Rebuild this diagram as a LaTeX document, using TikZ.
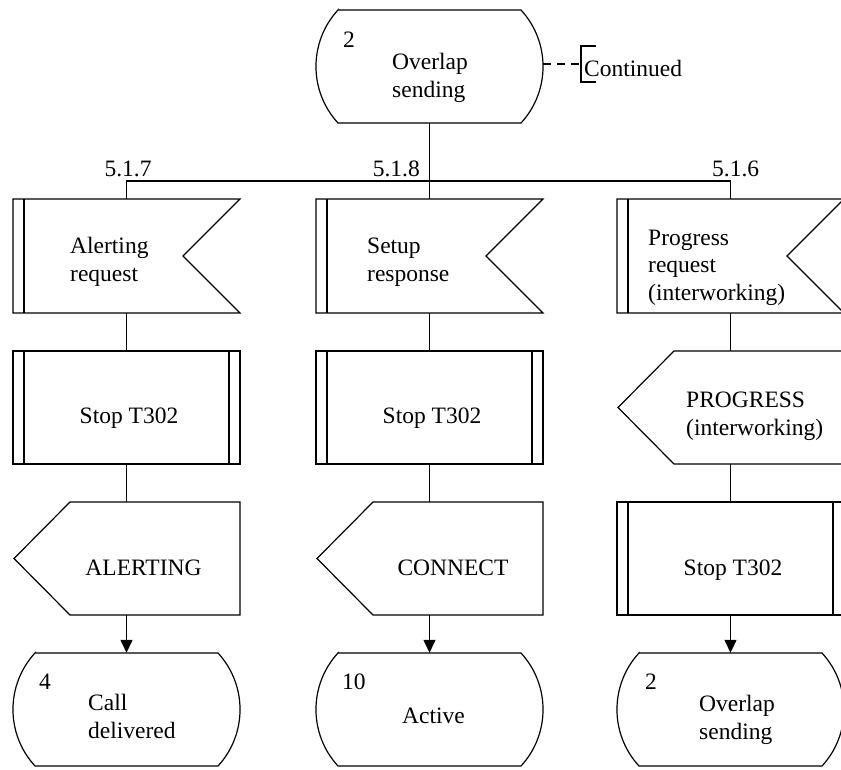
\documentclass[tikz,border=0pt]{standalone}
\usepackage{fontspec}
\setmainfont{Liberation Serif}
\usetikzlibrary{arrows.meta}

\tikzset{
  outline/.style={line width=1.2pt, line join=miter},
  bar/.style={line width=2pt},
  wire/.style={line width=1.3pt},
  flow/.style={wire, -{Triangle[width=12pt,length=13pt]}},
  frame/.style={minimum width=227pt, minimum height=113pt, inner sep=0pt, draw=none},
  lbl/.style={font=\fontsize{23.5}{27.5}\selectfont, inner sep=0pt, align=left},
  % SDL state: flat top and bottom, rounded sides
  pics/sdlstate/.style={code={
    \node[frame] (-b) {};
    \draw[outline] (-91.5,-56.5) -- (91.5,-56.5)
      arc[start angle=42.6, end angle=-42.6, radius=83.5pt]
      -- (-91.5,56.5)
      arc[start angle=222.6, end angle=137.4, radius=83.5pt] -- cycle;
  }},
  % internal input signal: notched flag with a bar on the left
  pics/insig/.style={code={
    \node[frame, minimum height=114pt] (-b) {};
    \draw[outline] (-113.5,-57) -- (113.5,-57) -- (56.5,0) -- (113.5,57)
      -- (-113.5,57) -- cycle;
    \draw[bar] (-102.5,-57) -- (-102.5,57);
  }},
  % internal output signal: arrow pointing left
  pics/outsig/.style={code={
    \node[frame] (-b) {};
    \draw[outline] (-112.5,0) -- (-56.5,-56.5) -- (113.5,-56.5)
      -- (113.5,56.5) -- (-56.5,56.5) -- cycle;
  }},
  % procedure call box with bars on both sides
  pics/procbox/.style={code={
    \node[frame] (-b) {};
    \draw[outline] (-113.5,-56.5) rectangle (113.5,56.5);
    \draw[bar] (-102.5,-56.5) -- (-102.5,56.5) (102.5,-56.5) -- (102.5,56.5);
  }}
}

\begin{document}
\begin{tikzpicture}[x=1pt, y=-1pt]
  \useasboundingbox (0,0) rectangle (841,769);
  \clip (0,0) rectangle (841,769);

  % start state
  \pic (top) at (429.5,66.5) {sdlstate};
  \node[lbl, anchor=base west] (topn) at (343,47) {2};
  \node[lbl, anchor=base west] (topt) at (392,97) {Overlap\\sending};

  % comment
  \node[lbl, anchor=base west] (cont) at (584,76) {Continued};
  \coordinate (brk) at (581,64);
  \draw[outline] (596,46) -- (581,46) -- (581,82) -- (596,82);
  \draw[wire, dash pattern=on 8pt off 6pt] (top-b.east |- brk) -- (brk);

  % first column
  \pic (in1)  at (126.5,256)   {insig};
  \pic (pr1)  at (126.5,407.5) {procbox};
  \pic (out1) at (126.5,558.5) {outsig};
  \pic (st1)  at (126.5,709.5) {sdlstate};

  % second column
  \pic (in2)  at (429.5,256)   {insig};
  \pic (pr2)  at (429.5,407.5) {procbox};
  \pic (out2) at (429.5,558.5) {outsig};
  \pic (st2)  at (429.5,709.5) {sdlstate};

  % third column
  \pic (in3)  at (730.5,256)   {insig};
  \pic (out3) at (730.5,407.5) {outsig};
  \pic (pr3)  at (730.5,558.5) {procbox};
  \pic (st3)  at (730.5,709.5) {sdlstate};

  % branch labels
  \node[lbl, anchor=base] (l1) at (128,176) {5.1.7};
  \node[lbl, anchor=base east] (l2) at (420,176) {5.1.8};
  \node[lbl, anchor=base west] (l3) at (712,176) {5.1.6};

  % texts (multi-line nodes are placed by the baseline of their last line)
  \node[lbl, anchor=base west] (in1t) at (70,281) {Alerting\\request};
  \node[lbl, anchor=base west] (in2t) at (367,281) {Setup\\response};
  \node[lbl, anchor=base west] (in3t) at (648,300) {Progress\\request\\(interworking)};

  \node[lbl, anchor=base] (pr1t) at (129,423) {Stop T302};
  \node[lbl, anchor=base] (pr2t) at (432,423) {Stop T302};
  \node[lbl, anchor=base] (pr3t) at (733,575) {Stop T302};

  \node[lbl, anchor=base] (out1t) at (143.5,575) {ALERTING};
  \node[lbl, anchor=base] (out2t) at (453,575) {CONNECT};
  \node[lbl, anchor=base west] (out3t) at (686,435) {PROGRESS\\(interworking)};

  \node[lbl, anchor=base west] (st1n) at (39,689) {4};
  \node[lbl, anchor=base west] (st1t) at (88,738) {Call\\delivered};
  \node[lbl, anchor=base west] (st2n) at (342,689) {10};
  \node[lbl, anchor=base west] (st2t) at (402,723) {Active};
  \node[lbl, anchor=base west] (st3n) at (645,689) {2};
  \node[lbl, anchor=base west] (st3t) at (699,739) {Overlap\\sending};

  % connectors
  \coordinate (br) at (429.5,181);
  \draw[wire] (top-b.south) -- (br) -- (in2-b.north);
  \draw[wire] (in1-b.north) |- (br);
  \draw[wire] (in3-b.north) |- (br);

  \draw[wire] (in1-b.south) -- (pr1-b.north);
  \draw[wire] (pr1-b.south) -- (out1-b.north);
  \draw[flow] (out1-b.south) -- (st1-b.north);

  \draw[wire] (in2-b.south) -- (pr2-b.north);
  \draw[wire] (pr2-b.south) -- (out2-b.north);
  \draw[flow] (out2-b.south) -- (st2-b.north);

  \draw[wire] (in3-b.south) -- (out3-b.north);
  \draw[wire] (out3-b.south) -- (pr3-b.north);
  \draw[flow] (pr3-b.south) -- (st3-b.north);
\end{tikzpicture}
\end{document}
